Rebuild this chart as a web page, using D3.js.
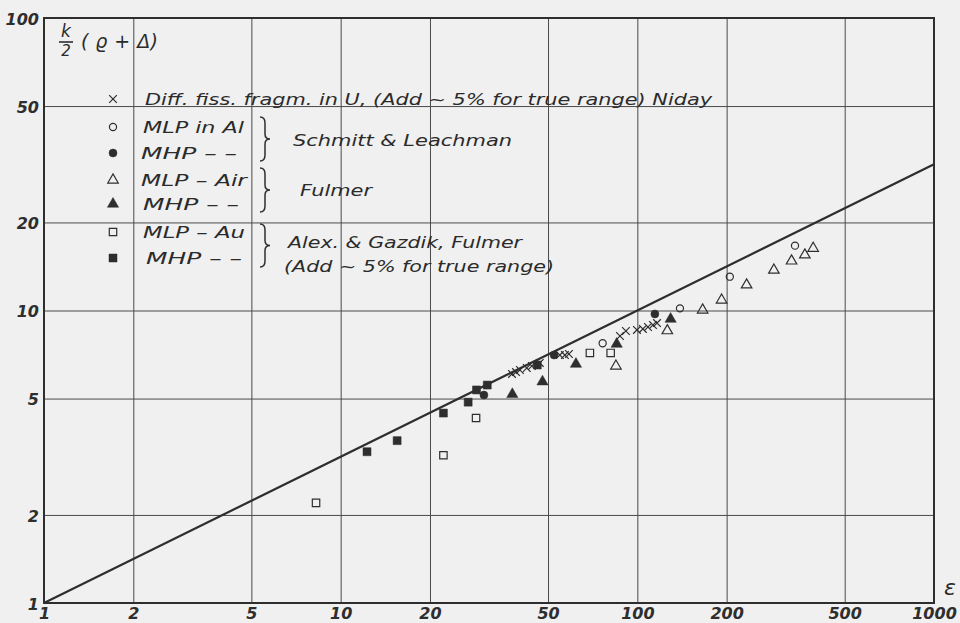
<!DOCTYPE html>
<html>
<head>
<meta charset="utf-8">
<script src="https://cdn.jsdelivr.net/npm/d3@7"></script>
<style>
  html, body { margin: 0; padding: 0; background: #f0f0f0; }
  svg { display: block; }
  .hand { font-family: "DejaVu Sans", sans-serif; font-style: italic; fill: #2b2b2b; }
</style>
</head>
<body>
<svg id="chart" width="960" height="623"></svg>
<script>
// Range–energy plot: k/2 (rho + Delta) versus epsilon, log–log
const xTicks = [1, 2, 5, 10, 20, 50, 100, 200, 500, 1000];
const yTicks = [1, 2, 5, 10, 20, 50, 100];

// Niday, differential fission fragments in U (crosses)
const nidayX = [37.8, 39.0, 40.2, 42.4, 44.1, 46.9, 54.8, 57.0, 58.8, 87.4, 91.5, 99.7, 104.4, 108.6, 112.9, 116.5];
const nidayY = [6.07, 6.16, 6.26, 6.36, 6.46, 6.62, 7.04, 7.04, 7.10, 8.18, 8.51, 8.58, 8.65, 8.78, 8.92, 9.06];

// Schmitt & Leachman, MLP in Al (open circles) / MHP (filled circles)
const slLightX = [76.4, 139.2, 205, 340];
const slLightY = [7.73, 10.17, 13.05, 16.66];
const slHeavyX = [30.4, 52.4, 114.6];
const slHeavyY = [5.14, 7.04, 9.73];

// Fulmer, MLP in air (open triangles) / MHP (filled triangles)
const fuLightX = [84.7, 126.2, 166, 192.3, 233.5, 288.6, 331, 367, 391.5];
const fuLightY = [6.46, 8.53, 10.04, 10.86, 12.23, 13.75, 14.77, 15.49, 16.32];
const fuHeavyX = [37.9, 47.9, 62.1, 85.2, 129.5];
const fuHeavyY = [5.17, 5.71, 6.56, 7.68, 9.35];

// Alex. & Gazdik, Fulmer, MLP in Au (open squares) / MHP (filled squares)
const agLightX = [8.26, 22.2, 28.6, 69.2, 81.3];
const agLightY = [2.20, 3.20, 4.29, 7.16, 7.16];
const agHeavyX = [12.27, 15.5, 22.2, 26.9, 28.7, 31.2, 46.0];
const agHeavyY = [3.29, 3.59, 4.46, 4.86, 5.35, 5.56, 6.51];

// Reference line k/2 (rho + Delta) = epsilon^(1/2)
const lineX = [1, 1000];
const lineY = lineX.map(v => Math.sqrt(v));

const ink = "#2e2e2e";
const svg = d3.select("#chart");
svg.append("rect").attr("width", 960).attr("height", 623).attr("fill", "#f0f0f0");

const plotL = 44, plotR = 934, plotT = 18, plotB = 603;
const x = d3.scaleLog().domain([1, 1000]).range([plotL, plotR]);
const y = d3.scaleLog().domain([1, 100]).range([plotB, plotT]);

// grid + tick labels through the axes
const xAxis = d3.axisBottom(x).tickValues(xTicks).tickFormat(d => String(d))
  .tickSize(-(plotB - plotT)).tickPadding(5);
const yAxis = d3.axisLeft(y).tickValues(yTicks).tickFormat(d => String(d))
  .tickSize(-(plotR - plotL)).tickPadding(5);

const gx = svg.append("g").attr("transform", `translate(0,${plotB})`).call(xAxis);
const gy = svg.append("g").attr("transform", `translate(${plotL},0)`).call(yAxis);
[gx, gy].forEach(g => {
  g.select(".domain").remove();
  g.selectAll(".tick line").attr("stroke", "#4a4a4a").attr("stroke-width", 1);
  g.selectAll(".tick text")
    .attr("font-family", "DejaVu Sans, sans-serif")
    .attr("font-style", "italic").attr("font-weight", "bold")
    .attr("font-size", 16).attr("fill", ink);
});
gy.selectAll(".tick text").attr("dy", "0.4em");

// frame
svg.append("rect").attr("x", plotL).attr("y", plotT)
  .attr("width", plotR - plotL).attr("height", plotB - plotT)
  .attr("fill", "none").attr("stroke", ink).attr("stroke-width", 2);

// axis names
const yl = svg.append("g").attr("class", "hand");
yl.append("text").attr("x", 66).attr("y", 37).attr("font-size", 17).attr("text-anchor", "middle").text("k");
yl.append("line").attr("x1", 59).attr("x2", 73).attr("y1", 42).attr("y2", 42).attr("stroke", ink).attr("stroke-width", 1.6);
yl.append("text").attr("x", 66).attr("y", 56).attr("font-size", 15).attr("text-anchor", "middle").text("2");
yl.append("text").attr("x", 81).attr("y", 48).attr("font-size", 19)
  .attr("textLength", 77).attr("lengthAdjust", "spacing").text("( ϱ + Δ)");
svg.append("text").attr("class", "hand").attr("x", 950).attr("y", 595)
  .attr("font-size", 22).attr("text-anchor", "middle").text("ε");

// reference line
svg.append("line")
  .attr("x1", x(lineX[0])).attr("y1", y(lineY[0]))
  .attr("x2", x(lineX[1])).attr("y2", y(lineY[1]))
  .attr("stroke", ink).attr("stroke-width", 2.2);

// point series
const shapes = {
  cross:  { type: d3.symbolTimes,    size: 40, fill: "none", stroke: ink, sw: 1.2 },
  ocirc:  { type: d3.symbolCircle,   size: 40, fill: "none", stroke: ink, sw: 1.2 },
  fcirc:  { type: d3.symbolCircle,   size: 50, fill: ink,    stroke: ink, sw: 0.5 },
  otri:   { type: d3.symbolTriangle, size: 48, fill: "none", stroke: ink, sw: 1.2 },
  ftri:   { type: d3.symbolTriangle, size: 55, fill: ink,    stroke: ink, sw: 0.5 },
  osq:    { type: d3.symbolSquare,   size: 55, fill: "none", stroke: ink, sw: 1.2 },
  fsq:    { type: d3.symbolSquare,   size: 64, fill: ink,    stroke: ink, sw: 0.5 }
};
function drawSymbol(g, shape, cx, cy) {
  const s = shapes[shape];
  g.append("path")
    .attr("d", d3.symbol().type(s.type).size(s.size)())
    .attr("transform", `translate(${cx},${cy})`)
    .attr("fill", s.fill).attr("stroke", s.stroke).attr("stroke-width", s.sw);
}
const series = [
  ["osq", agLightX, agLightY], ["fsq", agHeavyX, agHeavyY],
  ["otri", fuLightX, fuLightY], ["ftri", fuHeavyX, fuHeavyY],
  ["ocirc", slLightX, slLightY], ["fcirc", slHeavyX, slHeavyY],
  ["cross", nidayX, nidayY]
];
const pts = svg.append("g");
series.forEach(([shape, xs, ys]) => {
  xs.forEach((v, i) => drawSymbol(pts, shape, x(v), y(ys[i])));
});

// legend
const leg = svg.append("g");
const legendRows = [
  { shape: "cross", yy: 99,  text: "Diff. fiss. fragm. in U, (Add ~ 5% for true range) Niday", tx: 145, w: 567 },
  { shape: "ocirc", yy: 127, text: "MLP in Al", tx: 143, w: 101 },
  { shape: "fcirc", yy: 153, text: "MHP  –  –", tx: 141, w: 96 },
  { shape: "otri",  yy: 180, text: "MLP  –  Air", tx: 141, w: 106 },
  { shape: "ftri",  yy: 204, text: "MHP  –  –", tx: 143, w: 96 },
  { shape: "osq",   yy: 232, text: "MLP  –  Au", tx: 143, w: 102 },
  { shape: "fsq",   yy: 258, text: "MHP  –  –", tx: 146, w: 96 }
];
legendRows.forEach(r => {
  drawSymbol(leg, r.shape, 113, r.yy);
  leg.append("text").attr("class", "hand").attr("x", r.tx).attr("y", r.yy + 6)
    .attr("font-size", 16).attr("textLength", r.w).attr("lengthAdjust", "spacingAndGlyphs")
    .text(r.text);
});

function brace(x0, y1, y2) {
  const ym = (y1 + y2) / 2, bx = x0 + 5;
  return `M${x0},${y1} Q${bx},${y1} ${bx},${y1 + 6} L${bx},${ym - 5} Q${bx},${ym} ${x0 + 10},${ym}` +
         ` Q${bx},${ym} ${bx},${ym + 5} L${bx},${y2 - 6} Q${bx},${y2} ${x0},${y2}`;
}
[[117, 161], [168, 212], [224, 267]].forEach(([a, b]) => {
  leg.append("path").attr("d", brace(260, a, b))
    .attr("fill", "none").attr("stroke", ink).attr("stroke-width", 1.5);
});
const sources = [
  { text: "Schmitt & Leachman", tx: 293, ty: 146, w: 219 },
  { text: "Fulmer", tx: 300, ty: 196, w: 72 },
  { text: "Alex. & Gazdik, Fulmer", tx: 288, ty: 248, w: 234 },
  { text: "(Add ~ 5% for true range)", tx: 284, ty: 272, w: 270 }
];
sources.forEach(s => {
  leg.append("text").attr("class", "hand").attr("x", s.tx).attr("y", s.ty)
    .attr("font-size", 16).attr("textLength", s.w).attr("lengthAdjust", "spacingAndGlyphs")
    .text(s.text);
});
</script>
</body>
</html>
